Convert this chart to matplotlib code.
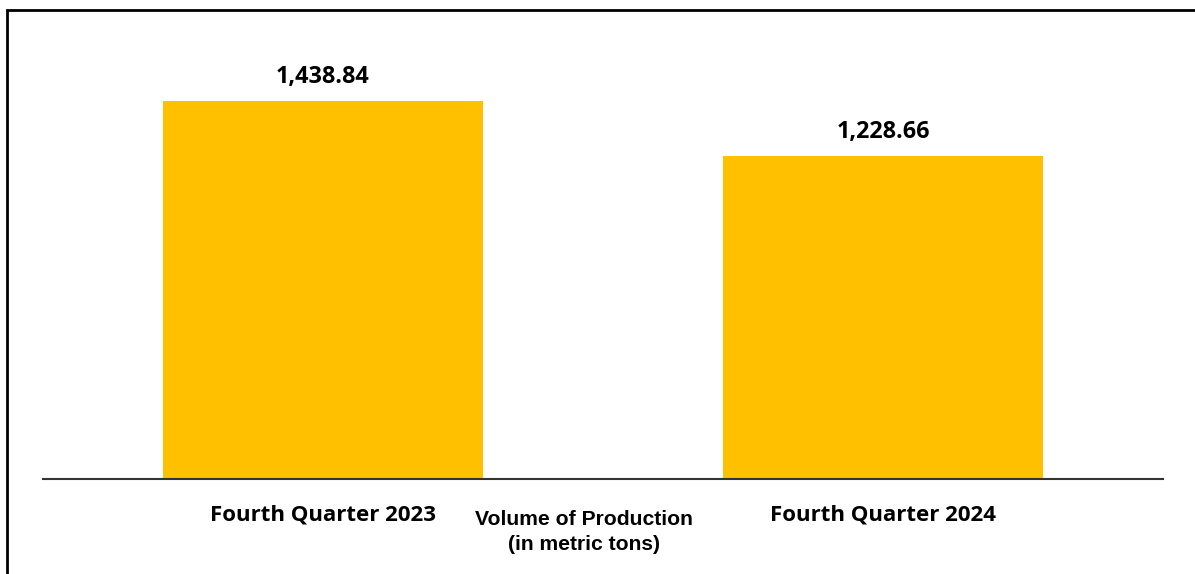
import matplotlib.pyplot as plt
from matplotlib.patches import Rectangle

# data
categories = ['Fourth Quarter 2023', 'Fourth Quarter 2024']
volume = [1438.84, 1228.66]
axis_title = 'Volume of Production\n(in metric tons)'

W, H = 1195, 574
fig = plt.figure(figsize=(W / 100, H / 100), dpi=100)

# plot area in pixels: x 43..1163, baseline at y=479
left, right = 43, 1163
base = 479
ymax = 1750
top = base - ymax / 3.806
ax = fig.add_axes([left / W, 1 - base / H, (right - left) / W, (base - top) / H])

x = list(range(len(categories)))
ax.bar(x, volume, width=0.571, color='#FFC000', zorder=2)
ax.set_xlim(-0.5, 1.5)
ax.set_ylim(0, ymax)

for s in ['top', 'right', 'left']:
    ax.spines[s].set_visible(False)
ax.spines['bottom'].set_color('#333333')
ax.spines['bottom'].set_linewidth(1.5)
ax.set_yticks([])
ax.set_xticks(x)
ax.set_xticklabels(categories, family='Open Sans', fontweight='bold', fontsize=16)
ax.tick_params(axis='x', length=0, pad=18)

for xi, v in zip(x, volume):
    ax.annotate(f'{v:,.2f}', (xi, v), xytext=(0, 8.5), textcoords='offset points',
                ha='center', va='bottom', family='Open Sans', fontweight='bold',
                fontsize=16.8)

fig.text(584 / W, 1 - 532 / H, axis_title, ha='center', va='center',
         family='Liberation Sans', fontweight='bold', fontsize=15.2, linespacing=1.35)

# chart border (only left and top edges are inside the image)
fig.patches.append(Rectangle((7 / W, -0.1), 1.2, 1 - 10 / H + 0.1, transform=fig.transFigure,
                             fill=False, edgecolor='black', linewidth=2))

fig.savefig('out.png', dpi=100)
